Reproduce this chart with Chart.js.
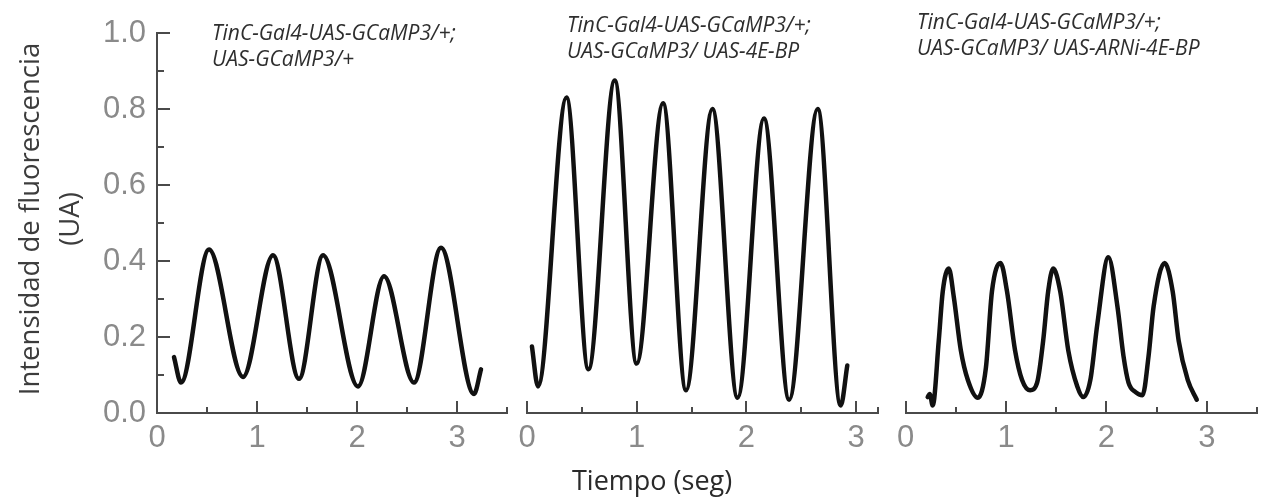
<!DOCTYPE html>
<html>
<head>
<meta charset="utf-8">
<script src="https://cdn.jsdelivr.net/npm/chart.js@4/dist/chart.umd.min.js"></script>
<style>
  html, body { margin: 0; padding: 0; background: #fff; }
  #wrap { position: relative; width: 1265px; height: 504px; overflow: hidden; background: #fff; }
  canvas { position: absolute; top: 0; }
  .ann { position: absolute; font-family: "Open Sans", "Noto Sans", sans-serif; font-style: italic;
         font-size: 21px; line-height: 26px; color: #2e2e2e; white-space: nowrap; }
  #ytitle { position: absolute; left: 49px; top: 219px; width: 440px; text-align: center;
            transform: translate(-50%, -50%) rotate(-90deg); font-family: "Open Sans", "Noto Sans", sans-serif;
            font-size: 27.5px; line-height: 40px; color: #3c3c3c; white-space: nowrap; }
  #xtitle { position: absolute; left: 572px; top: 467px; font-family: "Open Sans", "Noto Sans", sans-serif;
            font-size: 27px; line-height: 26px; color: #2a2a2a; white-space: nowrap; }
</style>
</head>
<body>
<div id="wrap">
  <canvas id="c1" width="520" height="504" style="left:0px"></canvas>
  <canvas id="c2" width="380" height="504" style="left:510px"></canvas>
  <canvas id="c3" width="375" height="504" style="left:890px"></canvas>
  <div class="ann" style="left:212px; top:19px">TinC-Gal4-UAS-GCaMP3/+;<br>UAS-GCaMP3/+</div>
  <div class="ann" style="left:567px; top:11px">TinC-Gal4-UAS-GCaMP3/+;<br>UAS-GCaMP3/ UAS-4E-BP</div>
  <div class="ann" style="left:917px; top:8px">TinC-Gal4-UAS-GCaMP3/+;<br>UAS-GCaMP3/ UAS-ARNi-4E-BP</div>
  <div id="ytitle">Intensidad de fluorescencia<br>(UA)</div>
  <div id="xtitle">Tiempo (seg)</div>
</div>
<script>
// ---------- data ----------
const panel1Time   = [0.17, 0.24, 0.52, 0.86, 1.16, 1.42, 1.66, 2.01, 2.27, 2.57, 2.84, 3.17, 3.24];
const panel1Signal = [0.147, 0.08, 0.43, 0.095, 0.415, 0.09, 0.415, 0.07, 0.36, 0.08, 0.435, 0.05, 0.115];

const panel2Time   = [0.045, 0.10, 0.36, 0.56, 0.80, 1.00, 1.24, 1.45, 1.69, 1.92, 2.16, 2.39, 2.65, 2.86, 2.92];
const panel2Signal = [0.175, 0.07, 0.83, 0.115, 0.875, 0.13, 0.815, 0.06, 0.80, 0.04, 0.775, 0.035, 0.80, 0.02, 0.125];

const panel3Time   = [0.22, 0.24, 0.27, 0.33, 0.37, 0.43, 0.48, 0.55, 0.62, 0.72, 0.80, 0.86, 0.945, 1.01, 1.09, 1.16,
                      1.24, 1.31, 1.37, 1.42, 1.47, 1.54, 1.62, 1.71, 1.77, 1.84, 1.91, 2.02, 2.11, 2.17, 2.22, 2.29,
                      2.36, 2.42, 2.47, 2.58, 2.66, 2.72, 2.81, 2.90];
const panel3Signal = [0.042, 0.05, 0.02, 0.19, 0.32, 0.38, 0.305, 0.165, 0.087, 0.04, 0.12, 0.32, 0.395, 0.32, 0.165, 0.087,
                      0.06, 0.08, 0.19, 0.32, 0.38, 0.32, 0.165, 0.07, 0.042, 0.087, 0.235, 0.41, 0.28, 0.15, 0.08, 0.055,
                      0.047, 0.15, 0.28, 0.395, 0.32, 0.19, 0.087, 0.035];

const yTickValues  = [0, 0.1, 0.2, 0.3, 0.4, 0.5, 0.6, 0.7, 0.8, 0.9, 1.0];
const xTicksPanel1 = [0, 0.5, 1, 1.5, 2, 2.5, 3, 3.5];
const xTicksPanel2 = [0, 0.5, 1, 1.5, 2, 2.5, 3, 3.2];
const xTicksPanel3 = [0, 0.5, 1, 1.5, 2, 2.5, 3, 3.5];

// ---------- styling ----------
const AXIS_COLOR = '#4a4a4a';
const LABEL_COLOR = '#8a8a8a';
const LABEL_FONT = { family: '"Liberation Sans", Arial, sans-serif', size: 31 };

const inwardTicks = {
  id: 'inwardTicks',
  afterDraw(chart) {
    const ctx = chart.ctx;
    const xs = chart.scales.x, ys = chart.scales.y;
    ctx.save();
    ctx.strokeStyle = AXIS_COLOR;
    ctx.lineWidth = 2;
    xs.ticks.forEach(t => {
      const px = Math.round(xs.getPixelForValue(t.value));
      const len = Number.isInteger(t.value) ? 12 : 6;
      ctx.beginPath(); ctx.moveTo(px, xs.top); ctx.lineTo(px, xs.top - len); ctx.stroke();
    });
    if (ys.options.display) {
      ys.ticks.forEach(t => {
        const py = Math.round(ys.getPixelForValue(t.value));
        const major = Math.round(t.value * 10) % 2 === 0;
        const len = major ? 13 : 7;
        ctx.beginPath(); ctx.moveTo(ys.right, py); ctx.lineTo(ys.right + len, py); ctx.stroke();
      });
    }
    ctx.restore();
  }
};

function makeChart(id, times, values, xMax, xTickValues, showY, padLeft, padRight) {
  const pts = times.map((t, i) => ({ x: t, y: values[i] }));
  return new Chart(document.getElementById(id), {
    type: 'line',
    data: { datasets: [{
      data: pts,
      borderColor: '#111111',
      borderWidth: 4.5,
      pointRadius: 0,
      fill: false,
      cubicInterpolationMode: 'monotone',
      borderCapStyle: 'round',
      borderJoinStyle: 'round'
    }]},
    options: {
      responsive: false,
      animation: false,
      devicePixelRatio: 1,
      layout: { padding: { left: padLeft, right: padRight, top: 33, bottom: 0 } },
      plugins: { legend: { display: false }, tooltip: { enabled: false } },
      scales: {
        x: {
          type: 'linear', min: 0, max: xMax,
          afterBuildTicks: s => { s.ticks = xTickValues.map(v => ({ value: v })); },
          afterFit: s => { s.height = 91; },
          grid: { display: false, drawTicks: false },
          border: { display: true, color: AXIS_COLOR, width: 2 },
          ticks: {
            autoSkip: false, maxRotation: 0, minRotation: 0, padding: 7,
            color: LABEL_COLOR, font: LABEL_FONT,
            callback: v => Number.isInteger(v) ? String(v) : ''
          }
        },
        y: {
          type: 'linear', min: 0, max: 1, display: showY,
          afterBuildTicks: s => { s.ticks = yTickValues.map(v => ({ value: v })); },
          afterFit: s => { s.width = showY ? 157 : 0; },
          grid: { display: false, drawTicks: false },
          border: { display: true, color: AXIS_COLOR, width: 2 },
          ticks: {
            autoSkip: false, padding: 11,
            color: LABEL_COLOR, font: LABEL_FONT,
            callback: v => (Math.round(v * 10) % 2 === 0) ? v.toFixed(1) : ''
          }
        }
      }
    },
    plugins: [inwardTicks]
  });
}

makeChart('c1', panel1Time, panel1Signal, 3.5, xTicksPanel1, true, 0, 13);
makeChart('c2', panel2Time, panel2Signal, 3.2, xTicksPanel2, false, 17, 12);
makeChart('c3', panel3Time, panel3Signal, 3.5, xTicksPanel3, false, 15, 8);
</script>
</body>
</html>
